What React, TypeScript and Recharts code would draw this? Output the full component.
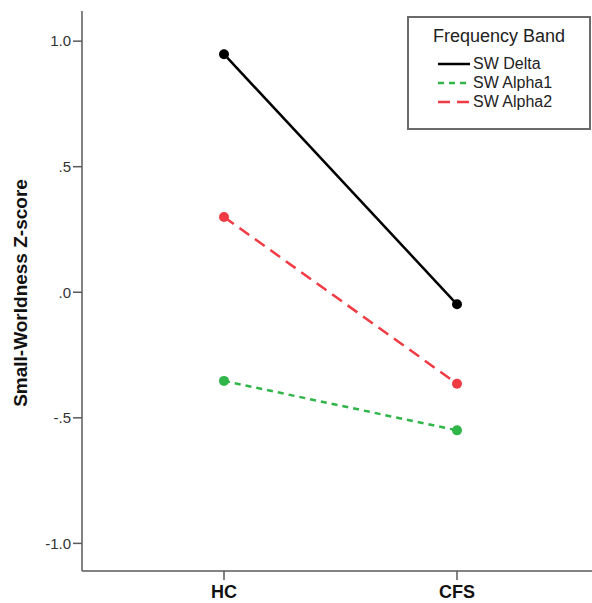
import { LineChart, Line, XAxis, YAxis } from 'recharts';

const groups = ['HC', 'CFS'];
const swDelta = [0.948, -0.048];
const swAlpha1 = [-0.353, -0.55];
const swAlpha2 = [0.3, -0.364];
const yTicks = [-1, -0.5, 0, 0.5, 1];

const series = [
  { key: 'delta', name: 'SW Delta', color: '#000000', dash: undefined as string | undefined },
  { key: 'alpha1', name: 'SW Alpha1', color: '#2fb548', dash: '6 5' },
  { key: 'alpha2', name: 'SW Alpha2', color: '#f03a44', dash: '12 7' },
];

const data = groups.map((g, i) => ({
  group: g,
  delta: swDelta[i],
  alpha1: swAlpha1[i],
  alpha2: swAlpha2[i],
}));

const FONT = '"Liberation Sans", Arial, sans-serif';
const AXIS = '#5a5a5a';

function fmtTick(v: number) {
  if (v === 0) return '.0';
  if (Math.abs(v) === 1) return v.toFixed(1);
  return v.toFixed(1).replace('0.', '.');
}

function LegendBox() {
  return (
    <div
      style={{
        position: 'absolute',
        left: 407,
        top: 16,
        width: 180,
        height: 110,
        border: '2px solid #6a6a6a',
        background: '#fff',
        fontFamily: FONT,
        color: '#222',
      }}
    >
      <div style={{ position: 'absolute', top: 8, width: '100%', textAlign: 'center', fontSize: 18 }}>
        Frequency Band
      </div>
      {series.map((s, i) => (
        <div
          key={s.key}
          style={{ position: 'absolute', left: 28, top: 37 + i * 19, display: 'flex', alignItems: 'center', fontSize: 16 }}
        >
          <svg width={34} height={18}>
            <line x1={1} y1={9} x2={33} y2={9} stroke={s.color} strokeWidth={2.5} strokeDasharray={s.dash} />
          </svg>
          <span style={{ marginLeft: 2 }}>{s.name}</span>
        </div>
      ))}
    </div>
  );
}

export default function App() {
  return (
    <div style={{ position: 'absolute', left: 0, top: 0, width: 592, height: 603, background: '#fff' }}>
      <LineChart width={592} height={603} data={data} margin={{ top: 11, right: 0, bottom: 0, left: 0 }}>
        <XAxis
          dataKey="group"
          height={32}
          padding={{ left: 142, right: 135 }}
          stroke={AXIS}
          strokeWidth={1.5}
          tickSize={9}
          tickMargin={5}
          tick={{ fill: '#111', fontSize: 18, fontWeight: 'bold', fontFamily: FONT }}
        />
        <XAxis
          xAxisId="top"
          orientation="top"
          dataKey="group"
          height={0}
          stroke={AXIS}
          strokeWidth={1.5}
          tick={false}
          tickLine={false}
        />
        <YAxis
          width={82}
          domain={[-1.11, 1.12]}
          ticks={yTicks}
          tickFormatter={fmtTick}
          stroke={AXIS}
          strokeWidth={1.5}
          tickSize={9}
          tickMargin={2}
          tick={{ fill: '#333', fontSize: 15, fontFamily: FONT }}
          label={{
            content: () => (
              <text
                x={27}
                y={293}
                transform="rotate(-90 27 293)"
                textAnchor="middle"
                fontSize={19}
                fontWeight="bold"
                fontFamily={FONT}
                fill="#111"
              >
                Small-Worldness Z-score
              </text>
            ),
          }}
        />
        {series.map((s) => (
          <Line
            key={s.key}
            dataKey={s.key}
            name={s.name}
            stroke={s.color}
            strokeWidth={2.5}
            strokeDasharray={s.dash}
            dot={{ r: 5, fill: s.color, stroke: s.color, strokeWidth: 0 }}
            activeDot={false}
            isAnimationActive={false}
          />
        ))}
      </LineChart>
      <LegendBox />
    </div>
  );
}
